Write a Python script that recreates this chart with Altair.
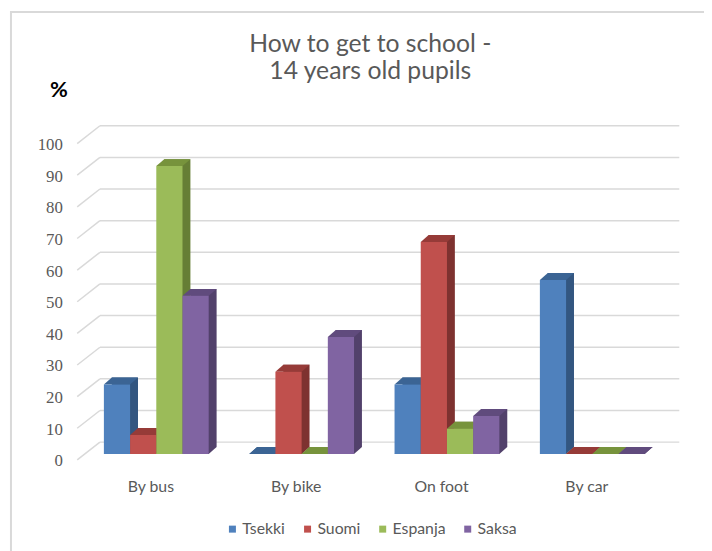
import altair as alt
import pandas as pd

modes = ["By bus", "By bike", "On foot", "By car"]
countries = ["Tsekki", "Suomi", "Espanja", "Saksa"]
tsekki = [22, 0, 22, 55]
suomi = [6, 26, 67, 0]
espanja = [91, 0, 8, 0]
saksa = [50, 37, 12, 0]
y_ticks = list(range(0, 101, 10))

front_colors = ["#4F81BD", "#C0504D", "#9BBB59", "#8064A2"]
top_colors = ["#3B6494", "#963B38", "#77933C", "#604B7D"]
side_colors = ["#335680", "#7E3230", "#667E35", "#52416B"]

series = [tsekki, suomi, espanja, saksa]
rows = []
for mi, m in enumerate(modes):
    for si, c in enumerate(countries):
        rows.append({"mode": m, "mi": mi, "country": c, "si": si, "value": series[si][mi]})
df = pd.DataFrame(rows)
grid_df = pd.DataFrame({"t": y_ticks})

FONT = "Lato"
GRAY = "#595959"
BW = 0.1803          # bar width in category units
HALF = 2 * BW        # half group width

def js_list(lst):
    return "[" + ",".join("'" + s + "'" for s in lst) + "]"

base = alt.Chart(df).transform_calculate(
    x0=f"datum.mi - {HALF} + datum.si * {BW}",
    x1=f"datum.mi - {HALF} + (datum.si + 1) * {BW}",
    xc=f"datum.mi - {HALF} + (datum.si + 0.5) * {BW}",
    zero="0",
    sidecol=f"{js_list(side_colors)}[datum.si]",
    topcol=f"{js_list(top_colors)}[datum.si]",
)

xscale = alt.Scale(domain=[-0.5442, 3.5442], nice=False, zero=False)
yscale = alt.Scale(domain=[0, 100], nice=False)

label_expr = f"{js_list(modes)}[datum.value]"

x_axis = alt.Axis(
    values=[0, 1, 2, 3], labelExpr=label_expr, title=None, domain=False, ticks=False,
    grid=False, labelPadding=25, labelOffset=-6, labelFont=FONT, labelFontSize=16,
    labelColor=GRAY)
y_axis = alt.Axis(
    values=y_ticks, grid=False, domain=False, ticks=False,
    labelPadding=15, labelOffset=7, labelFont="Liberation Serif", labelFontSize=17,
    labelColor=GRAY,
    title="%", titleAngle=0, titleX=-19, titleY=-49, titleFont=FONT, titleFontSize=22,
    titleFontWeight="bold", titleColor="black", titleAlign="center", titleBaseline="middle")

# Parallelogram (top face) path: width 26.5px, depth 8px right / 7px up, scaled by r=20
face_path = "M -0.6625 0 L 0.6625 0 L 1.0625 -0.35 L -0.2625 -0.35 Z"

border = alt.Chart(pd.DataFrame({"a": [0]})).mark_rect(
    fillOpacity=0, stroke="#D9D9D9", strokeWidth=2
).encode(
    x=alt.value(-67), x2=alt.value(700), y=alt.value(-127), y2=alt.value(460)
)

grid = alt.Chart(grid_df).mark_rule(yOffset=-12, color="#D9D9D9", strokeWidth=1.5).encode(
    y=alt.Y("t:Q", scale=yscale, axis=y_axis),
    x=alt.value(23), x2=alt.value(609),
)

slant = alt.Chart(grid_df).mark_rule(yOffset=6, y2Offset=-12, color="#D9D9D9", strokeWidth=1.5).encode(
    y=alt.Y("t:Q", scale=yscale, axis=y_axis),
    y2="t:Q",
    x=alt.value(0), x2=alt.value(23),
)

bottom_face = base.mark_point(shape=face_path, size=1600, filled=True, opacity=1, strokeWidth=0).encode(
    x=alt.X("xc:Q", scale=xscale, axis=x_axis),
    y=alt.Y("zero:Q", scale=yscale, axis=y_axis),
    fill=alt.Fill("sidecol:N", scale=None),
)

side = base.mark_bar(xOffset=8, x2Offset=8, yOffset=-7, y2Offset=-7).encode(
    x=alt.X("x0:Q", scale=xscale, axis=x_axis),
    x2="x1:Q",
    y=alt.Y("value:Q", scale=yscale, axis=y_axis),
    y2="zero:Q",
    fill=alt.Fill("sidecol:N", scale=None),
)

top = base.mark_point(shape=face_path, size=1600, filled=True, opacity=1, strokeWidth=0).encode(
    x=alt.X("xc:Q", scale=xscale, axis=x_axis),
    y=alt.Y("value:Q", scale=yscale, axis=y_axis),
    fill=alt.Fill("topcol:N", scale=None),
)

front = base.mark_bar().encode(
    x=alt.X("x0:Q", scale=xscale, axis=x_axis),
    x2="x1:Q",
    y=alt.Y("value:Q", scale=yscale, axis=y_axis),
    y2="zero:Q",
    color=alt.Color("country:N", scale=alt.Scale(domain=countries, range=front_colors),
                    legend=alt.Legend(orient="none", legendX=149, legendY=388,
                                      direction="horizontal", title=None, symbolType="square",
                                      symbolSize=50, symbolStrokeWidth=0, labelFont=FONT,
                                      labelFontSize=16, labelColor=GRAY, labelOffset=2,
                                      columnPadding=14, padding=0)),
)

chart = alt.layer(border, grid, slant, bottom_face, side, top, front).properties(
    width=601, height=320,
    padding={"left": 70, "top": 128, "right": 33, "bottom": 95},
    autosize=alt.AutoSizeParams(type="none"),
    background="white",
    title=alt.TitleParams(["How to get to school -", "14 years old pupils"], font=FONT,
                          fontSize=25, fontWeight="normal", color=GRAY, anchor="middle",
                          frame="group", dx=-4, offset=-74, lineHeight=28),
).configure_view(stroke=None)

chart.save("out.html", embed_options={"renderer": "svg", "actions": False})
